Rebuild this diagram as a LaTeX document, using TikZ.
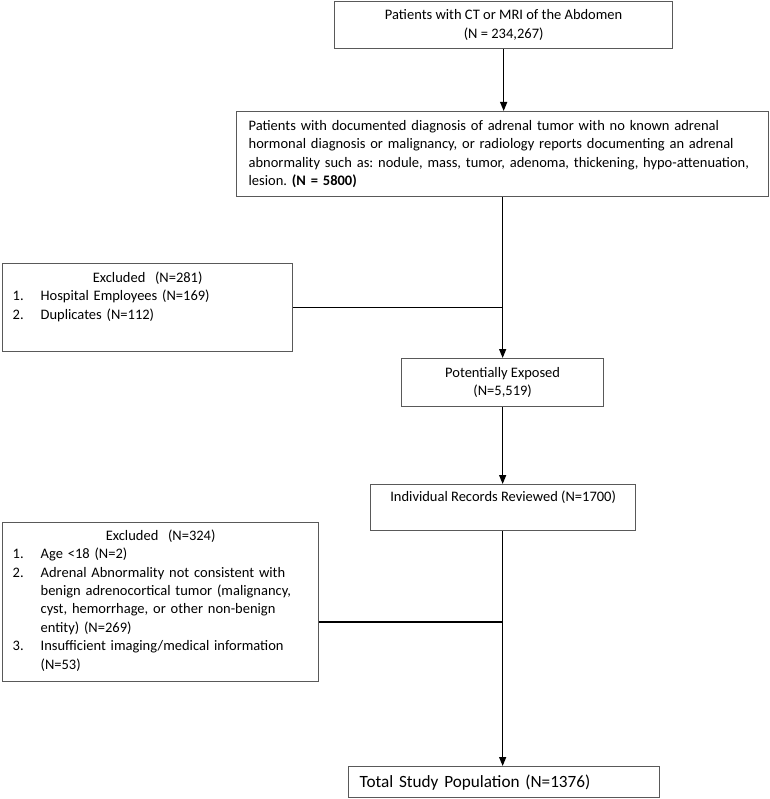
\documentclass[tikz,border=0pt]{standalone}
\usepackage{fontspec}
\setmainfont{Carlito}
\usetikzlibrary{arrows.meta}
\frenchspacing
\begin{document}
\begin{tikzpicture}[x=1pt,y=-1pt]
     \tikzset{box/.style={draw=black!65, line width=1.3pt, inner sep=0pt, font=\fontsize{14.5}{18.4}\selectfont},
              arr/.style={black, line width=1.3pt, -{Triangle[width=7pt,length=9pt]}}}
     \useasboundingbox (0,0) rectangle (769,799);
     \node[box, anchor=north west, minimum width=338, minimum height=47, align=center] (pop) at (334,0.7) {Patients with CT or MRI of the Abdomen\\(N = 234,267)};
     \node[box, anchor=north west, minimum width=532, minimum height=85, text width=508, inner xsep=12pt, align=left] (crit) at (236,111) {Patients with documented diagnosis of adrenal tumor with no known adrenal\\hormonal diagnosis or malignancy, or radiology reports documenting an adrenal\\abnormality such as: nodule, mass, tumor, adenoma, thickening, hypo-attenuation,\\lesion. \textbf{(N = 5800)}};
     \node[box, anchor=north west, minimum width=290, minimum height=85, text width=270, inner xsep=10pt, inner ysep=8pt] (ex1) at (2,263) {{\centering Excluded\ \ (N=281)\par}
          \noindent\begin{tabular}[t]{@{}p{28pt}@{}p{242pt}@{}}
          1. & Hospital Employees (N=169)\\
          2. & Duplicates (N=112)
          \end{tabular}\par\kern19pt\relax};
     \node[box, anchor=north west, minimum width=202, minimum height=48, align=center] (pe) at (401,358) {Potentially Exposed\\(N=5,519)};
     \node[box, anchor=north west, minimum width=265, text height=12pt, text depth=24pt, inner ysep=5pt] (ir) at (370,484) {Individual Records Reviewed (N=1700)};
     \node[box, anchor=north west, minimum width=316, minimum height=157, text width=296, inner xsep=10pt, inner ysep=7pt] (ex2) at (2,522) {{\centering Excluded\ \ (N=324)\par}
          \noindent\begin{tabular}[t]{@{}p{28pt}@{}p{268pt}@{}}
          1. & Age <18 (N=2)\\
          2. & Adrenal Abnormality not consistent with\newline benign adrenocortical tumor (malignancy,\newline cyst, hemorrhage, or other non-benign\newline entity) (N=269)\\
          3. & Insufficient imaging/medical information\newline (N=53)
          \end{tabular}\par};
     \node[box, anchor=north west, minimum width=311, minimum height=31, text width=289, inner xsep=11pt, align=left, font=\fontsize{17.2}{20}\selectfont] (tot) at (348,766) {Total Study Population (N=1376)};
     \coordinate (j2) at (502,622);
     \draw[arr] (pop.south) -- (pop.south |- crit.north);
     \draw[arr] (crit.south -| pe.north) -- (pe.north);
     \draw[black, line width=1.3pt] (ex1.east) -- (ex1.east -| pe.north);
     \draw[arr] (pe.south) -- (pe.south |- ir.north);
     \draw[arr] (ir.south -| pe.south) -- (tot.north -| pe.south);
     \draw[black, line width=1.3pt] (ex2.east |- j2) -- (j2);
\end{tikzpicture}
\end{document}
